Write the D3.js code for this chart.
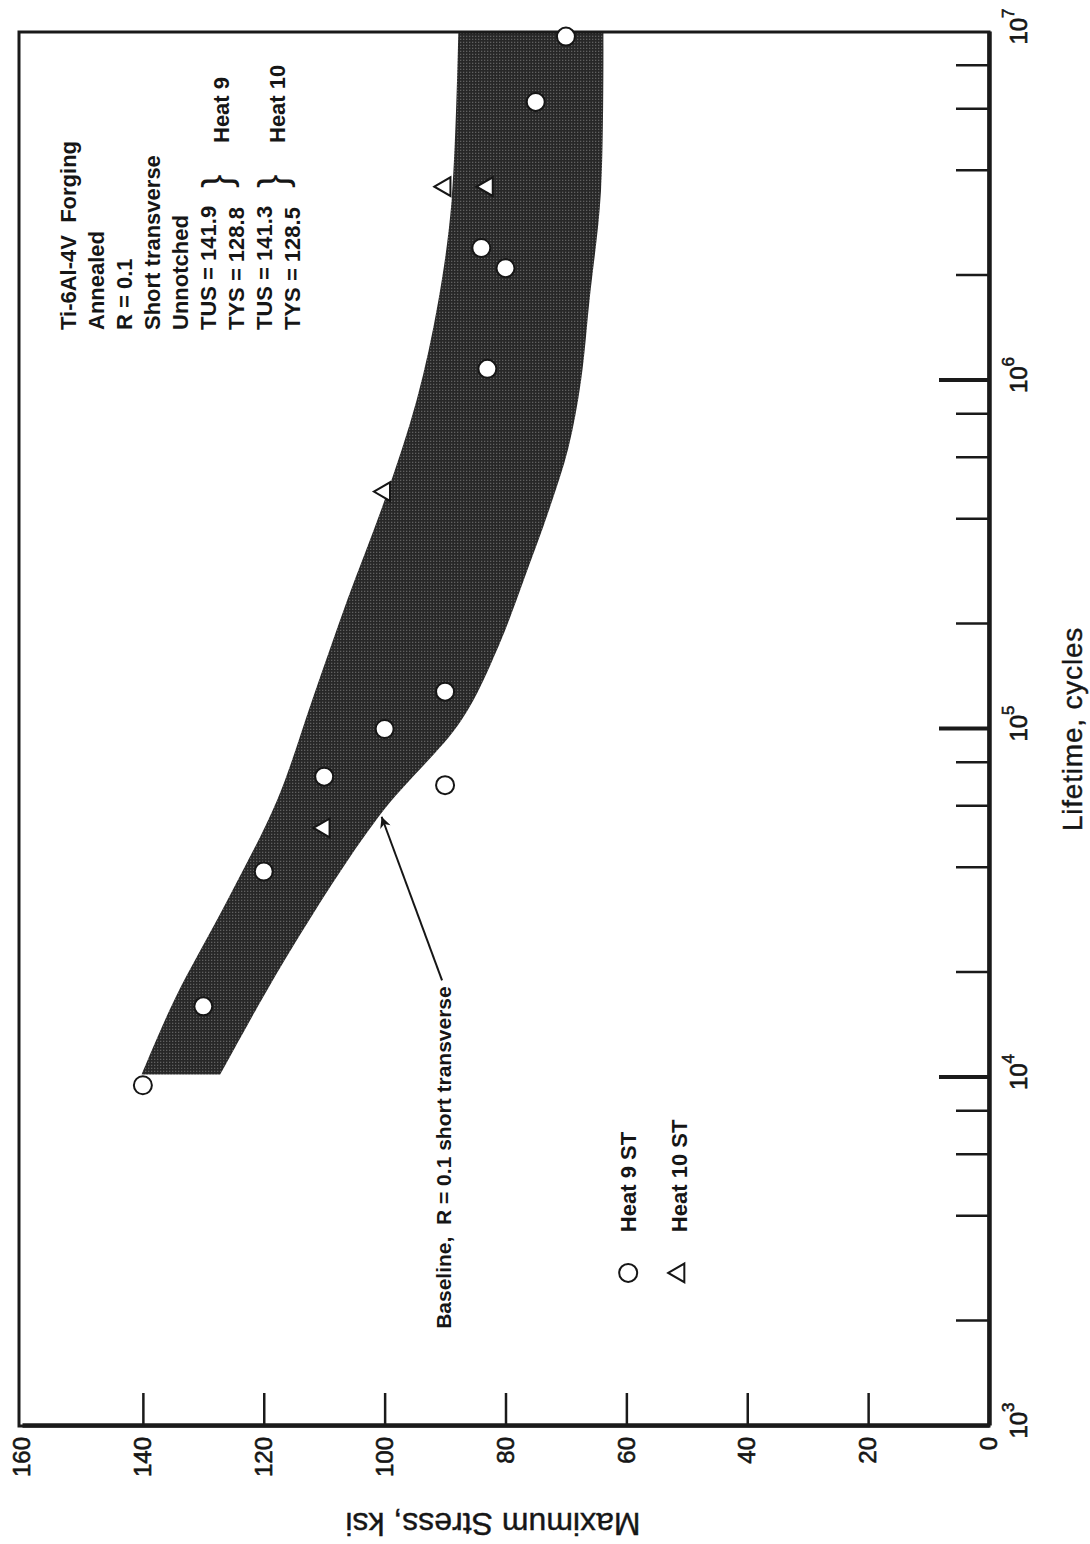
<!DOCTYPE html>
<html>
<head>
<meta charset="utf-8">
<script src="https://cdn.jsdelivr.net/npm/d3@7"></script>
<style>
body { margin: 0; background: #fff; }
svg { display: block; }
text { font-family: "Liberation Sans", Arial, sans-serif; fill: #161616; }
</style>
</head>
<body>
<svg id="chart" width="1090" height="1544"></svg>
<script>
// heat 9 ST (circles) and heat 10 ST (triangles): cycles, max stress ksi
var cycles9 = [9.5e3, 1.6e4, 3.9e4, 7.3e4, 1.0e5, 6.9e4, 1.28e5, 1.08e6, 2.4e6, 2.1e6, 6.3e6, 9.7e6];
var stress9 = [140, 130, 120, 110, 100, 90, 90, 83, 84, 80, 75, 70];
var cycles10 = [5.2e4, 4.8e5, 3.6e6, 3.6e6];
var stress10 = [110, 100, 90, 83];

// baseline scatter band, R = 0.1 short transverse
var upperN = [1.02e4, 1.67e4, 3.23e4, 6.25e4, 1.21e5, 2.34e5, 4.54e5, 8.79e5, 1.70e6, 3.30e6, 1e7];
var upperS = [140.2, 134.8, 126.0, 117.8, 112.0, 106.2, 100.0, 94.7, 91.1, 88.9, 87.8];
var lowerN = [1e7, 3.5e6, 1.7e6, 1.0e6, 6.4e5, 4.2e5, 2.7e5, 1.72e5, 1.06e5, 5.6e4, 2.28e4, 1.02e4];
var lowerS = [63.8, 64.2, 66.1, 67.5, 69.6, 72.9, 76.9, 81.2, 87.3, 101, 115.8, 127.2];

var stressTicks = [0, 20, 40, 60, 80, 100, 120, 140, 160];
var decadeTicks = [1e3, 1e4, 1e5, 1e6, 1e7];
var minorTicks = [2e3, 4e3, 6e3, 8e3, 2e4, 4e4, 6e4, 8e4, 2e5, 4e5, 6e5, 8e5, 2e6, 4e6, 6e6, 8e6];

var infoLines = ['Ti-6Al-4V  Forging', 'Annealed', 'R = 0.1', 'Short transverse', 'Unnotched',
  'TUS = 141.9', 'TYS = 128.8', 'TUS = 141.3', 'TYS = 128.5'];
var heatLabels = ['Heat 9', 'Heat 10'];
var legendLabels = ['Heat 9 ST', 'Heat 10 ST'];

var W = 1394, H = 970;

var x = d3.scaleLog().domain([1e3, 1e7]).range([0, W]);
var y = d3.scaleLinear().domain([0, 160]).range([H, 3]);

var svg = d3.select('#chart');
var defs = svg.append('defs');
var pat = defs.append('pattern')
  .attr('id', 'dots')
  .attr('width', 3).attr('height', 3)
  .attr('patternUnits', 'userSpaceOnUse');
pat.append('rect').attr('width', 3).attr('height', 3).attr('fill', '#272727');
pat.append('rect').attr('width', 1.3).attr('height', 1.3).attr('fill', '#606060');
defs.append('clipPath').attr('id', 'plotClip')
  .append('rect').attr('width', W).attr('height', H);

// chart is drawn upright, then turned a quarter turn counter-clockwise
var g = svg.append('g').attr('transform', 'translate(19,1426) rotate(-90)');

// band
var line = d3.line().curve(d3.curveCatmullRom.alpha(0.5));
var up = upperN.map((n, i) => [x(n), y(upperS[i])]);
var lo = lowerN.map((n, i) => [x(n), y(lowerS[i])]);
g.append('path')
  .attr('clip-path', 'url(#plotClip)')
  .attr('d', line(up) + 'L' + line(lo).slice(1) + 'Z')
  .attr('fill', 'url(#dots)');

// frame
g.append('rect')
  .attr('width', W).attr('height', H)
  .attr('fill', 'none').attr('stroke', '#1a1a1a').attr('stroke-width', 3);

// lifetime axis (bottom of upright chart)
var minorAxis = g.append('g').attr('transform', 'translate(0,' + H + ')')
  .call(d3.axisTop(x).tickValues(minorTicks).tickSize(33).tickSizeOuter(0).tickFormat(''));
minorAxis.selectAll('.tick line').attr('stroke', '#1a1a1a').attr('stroke-width', 2.5);
minorAxis.select('.domain').attr('stroke', '#1a1a1a').attr('stroke-width', 4.5);

var majorAxis = g.append('g').attr('transform', 'translate(0,' + H + ')')
  .call(d3.axisTop(x).tickValues(decadeTicks.slice(1, 4)).tickSize(50).tickSizeOuter(0).tickFormat(''));
majorAxis.selectAll('.tick line').attr('stroke', '#1a1a1a').attr('stroke-width', 4);
majorAxis.select('.domain').remove();

var lifeLabels = g.append('g').attr('transform', 'translate(0,' + H + ')')
  .call(d3.axisBottom(x).tickValues(decadeTicks).tickSize(0).tickPadding(21).tickFormat(''));
lifeLabels.select('.domain').remove();
lifeLabels.selectAll('.tick text').each(function (d) {
  var t = d3.select(this).attr('font-size', 24).attr('font-family', null)
    .attr('fill', '#161616').attr('stroke', '#161616').attr('stroke-width', 0.6);
  t.append('tspan').attr('dx', 5).text('10');
  t.append('tspan').attr('dy', -13).attr('font-size', 17).text(Math.round(Math.log10(d)));
});

g.append('text')
  .attr('x', W / 2).attr('y', H + 93)
  .attr('text-anchor', 'middle')
  .attr('font-size', 28)
  .attr('letter-spacing', 0.8)
  .attr('stroke', '#161616').attr('stroke-width', 0.4)
  .text('Lifetime,  cycles');

// stress axis (left of upright chart)
var stressAxis = g.append('g')
  .call(d3.axisRight(y).tickValues(stressTicks.slice(1, 8)).tickSize(33).tickSizeOuter(0).tickFormat(''));
stressAxis.selectAll('.tick line').attr('stroke', '#1a1a1a').attr('stroke-width', 2.5);
stressAxis.select('.domain').attr('stroke', '#1a1a1a').attr('stroke-width', 4.5);

var stressLabels = g.append('g')
  .call(d3.axisLeft(y).tickValues(stressTicks).tickSize(0).tickPadding(11));
stressLabels.select('.domain').remove();
stressLabels.selectAll('.tick text')
  .attr('font-size', 24).attr('font-family', null).attr('fill', '#161616')
  .attr('stroke', '#161616').attr('stroke-width', 0.6);

g.append('text')
  .attr('transform', 'translate(-87,' + (H - 496) + ') rotate(-90)')
  .attr('text-anchor', 'middle')
  .attr('font-size', 32)
  .attr('stroke', '#161616').attr('stroke-width', 0.4)
  .text('Maximum Stress, ksi');

// data points
var plot = g.append('g');
plot.selectAll('circle.h9')
  .data(d3.zip(cycles9, stress9))
  .join('circle')
  .attr('class', 'h9')
  .attr('cx', d => x(d[0]))
  .attr('cy', d => y(d[1]))
  .attr('r', 9)
  .attr('fill', '#fff')
  .attr('stroke', '#161616')
  .attr('stroke-width', 2);

var tri = d3.symbol(d3.symbolTriangle, 150);
plot.selectAll('path.h10')
  .data(d3.zip(cycles10, stress10))
  .join('path')
  .attr('class', 'h10')
  .attr('d', tri)
  .attr('transform', d => 'translate(' + x(d[0]) + ',' + y(d[1]) + ')')
  .attr('fill', '#fff')
  .attr('stroke', '#161616')
  .attr('stroke-width', 2);

// info block
var info = g.append('g').attr('font-weight', 'bold').attr('font-size', 22);
info.selectAll('text.info')
  .data(infoLines)
  .join('text')
  .attr('class', 'info')
  .attr('x', 1096)
  .attr('y', (d, i) => 57 + 28 * i)
  .attr('xml:space', 'preserve')
  .text(d => d);
info.selectAll('text.brace')
  .data(heatLabels)
  .join('text')
  .attr('class', 'brace')
  .attr('x', 1238)
  .attr('y', (d, i) => 212 + 56 * i)
  .attr('font-weight', 'normal')
  .attr('font-size', 40)
  .text('}');
info.selectAll('text.heat')
  .data(heatLabels)
  .join('text')
  .attr('class', 'heat')
  .attr('x', 1283)
  .attr('y', (d, i) => 210 + 56 * i)
  .text(d => d);

// baseline annotation
var tipN = 5.6e4, tipS = 100.5, tailN = 1.9e4, tailS = 90.5;
defs.append('marker')
  .attr('id', 'arrow')
  .attr('viewBox', '0 0 10 10')
  .attr('refX', 10).attr('refY', 5)
  .attr('markerWidth', 20).attr('markerHeight', 11)
  .attr('markerUnits', 'userSpaceOnUse')
  .attr('orient', 'auto')
  .append('path').attr('d', 'M0,0L10,5L0,10L3,5Z').attr('fill', '#161616');
g.append('line')
  .attr('x1', x(tailN)).attr('y1', y(tailS))
  .attr('x2', x(tipN)).attr('y2', y(tipS))
  .attr('stroke', '#161616').attr('stroke-width', 2)
  .attr('marker-end', 'url(#arrow)');
g.append('text')
  .attr('x', x(1.9e3)).attr('y', y(89))
  .attr('font-weight', 'bold').attr('font-size', 21)
  .attr('xml:space', 'preserve')
  .text('Baseline,  R = 0.1 short transverse');

// legend
var legend = g.append('g').attr('font-weight', 'bold').attr('font-size', 22);
legend.append('circle')
  .attr('cx', x(2.75e3)).attr('cy', y(59.7)).attr('r', 9)
  .attr('fill', '#fff').attr('stroke', '#161616').attr('stroke-width', 2);
legend.append('path')
  .attr('d', tri)
  .attr('transform', 'translate(' + x(2.75e3) + ',' + y(51.3) + ')')
  .attr('fill', '#fff').attr('stroke', '#161616').attr('stroke-width', 2);
legend.selectAll('text')
  .data(legendLabels)
  .join('text')
  .attr('x', x(3.6e3))
  .attr('y', (d, i) => y(59.7 - 8.4 * i) + 8)
  .text(d => d);
</script>
</body>
</html>
